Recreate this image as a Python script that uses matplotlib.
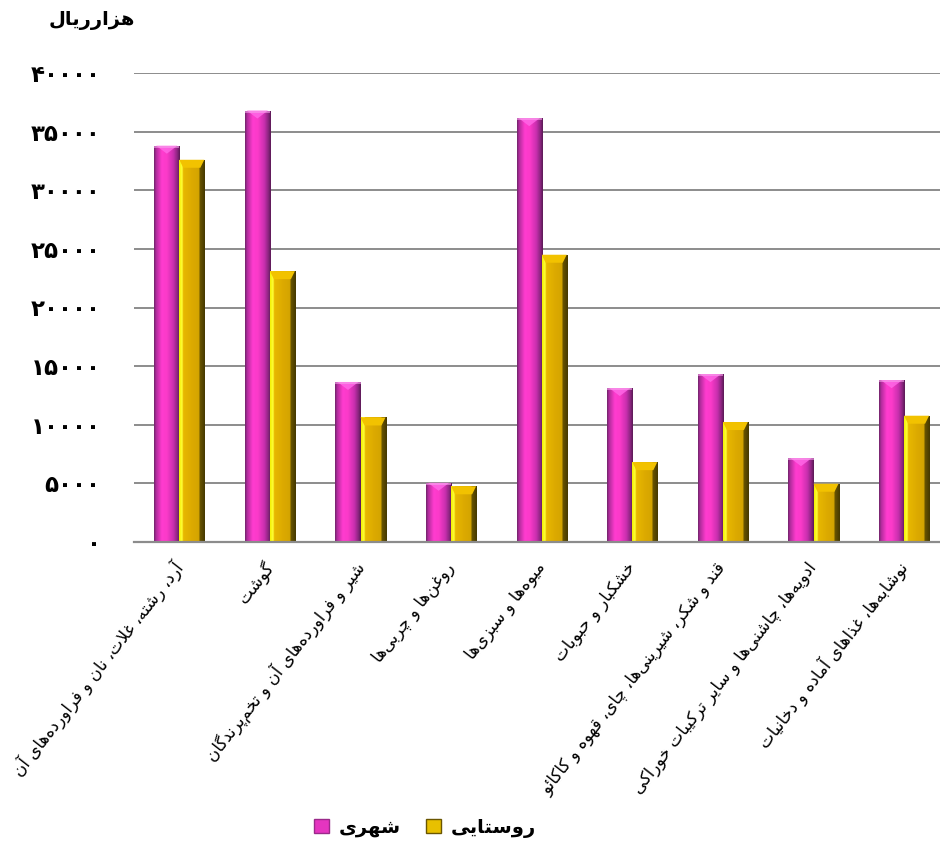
import numpy as np
import matplotlib
matplotlib.use("Agg")
import matplotlib.pyplot as plt
from matplotlib.colors import LinearSegmentedColormap
from matplotlib.patches import Patch, Polygon

# ---------------- data ----------------
categories = [
    "آرد، رشته، غلات، نان و فراورده‌های آن",
    "گوشت",
    "شیر و فراورده‌های آن و تخم‌پرندگان",
    "روغن‌ها و چربی‌ها",
    "میوه‌ها و سبزی‌ها",
    "خشکبار و حبوبات",
    "قند و شکر، شیرینی‌ها، چای، قهوه و کاکائو",
    "ادویه‌ها، چاشنی‌ها و سایر ترکیبات خوراکی",
    "نوشابه‌ها، غذاهای آماده و دخانیات",
]
urban = [33800, 36800, 13650, 5050, 36150, 13130, 14320, 7150, 13800]
rural = [32600, 23100, 10620, 4750, 24500, 6810, 10230, 4970, 10770]
series_names = ["شهری", "روستایی"]
y_ticks = [0, 5000, 10000, 15000, 20000, 25000, 30000, 35000, 40000]
y_unit = "هزارریال"

# ---------------- minimal Persian shaping ----------------
FORMS = {
    'ا': ('\uFE8D', '\uFE8E', None, None),
    'آ': ('\uFE81', '\uFE82', None, None),
    'ب': ('\uFE8F', '\uFE90', '\uFE91', '\uFE92'),
    'پ': ('\uFB56', '\uFB57', '\uFB58', '\uFB59'),
    'ت': ('\uFE95', '\uFE96', '\uFE97', '\uFE98'),
    'ج': ('\uFE9D', '\uFE9E', '\uFE9F', '\uFEA0'),
    'چ': ('\uFB7A', '\uFB7B', '\uFB7C', '\uFB7D'),
    'ح': ('\uFEA1', '\uFEA2', '\uFEA3', '\uFEA4'),
    'خ': ('\uFEA5', '\uFEA6', '\uFEA7', '\uFEA8'),
    'د': ('\uFEA9', '\uFEAA', None, None),
    'ذ': ('\uFEAB', '\uFEAC', None, None),
    'ر': ('\uFEAD', '\uFEAE', None, None),
    'ز': ('\uFEAF', '\uFEB0', None, None),
    'س': ('\uFEB1', '\uFEB2', '\uFEB3', '\uFEB4'),
    'ش': ('\uFEB5', '\uFEB6', '\uFEB7', '\uFEB8'),
    'ع': ('\uFEC9', '\uFECA', '\uFECB', '\uFECC'),
    'غ': ('\uFECD', '\uFECE', '\uFECF', '\uFED0'),
    'ف': ('\uFED1', '\uFED2', '\uFED3', '\uFED4'),
    'ق': ('\uFED5', '\uFED6', '\uFED7', '\uFED8'),
    'ک': ('\uFB8E', '\uFB8F', '\uFB90', '\uFB91'),
    'گ': ('\uFB92', '\uFB93', '\uFB94', '\uFB95'),
    'ل': ('\uFEDD', '\uFEDE', '\uFEDF', '\uFEE0'),
    'م': ('\uFEE1', '\uFEE2', '\uFEE3', '\uFEE4'),
    'ن': ('\uFEE5', '\uFEE6', '\uFEE7', '\uFEE8'),
    'و': ('\uFEED', '\uFEEE', None, None),
    'ه': ('\uFEE9', '\uFEEA', '\uFEEB', '\uFEEC'),
    'ی': ('\uFBFC', '\uFBFD', '\uFBFE', '\uFBFF'),
    'ئ': ('\uFE89', '\uFE8A', '\uFE8B', '\uFE8C'),
}
LAMALEF = {'ا': ('\uFEFB', '\uFEFC'), 'آ': ('\uFEF5', '\uFEF6')}


def fa(text):
    ch = list(text)
    n = len(ch)
    out = []
    i = 0

    def dual(c):
        return c in FORMS and FORMS[c][2] is not None

    while i < n:
        c = ch[i]
        if c not in FORMS:
            if c != '\u200c':
                out.append(c)
            i += 1
            continue
        prev_join = i > 0 and dual(ch[i - 1])
        if c == 'ل' and i + 1 < n and ch[i + 1] in LAMALEF:
            out.append(LAMALEF[ch[i + 1]][1 if prev_join else 0])
            i += 2
            continue
        next_join = dual(c) and i + 1 < n and ch[i + 1] in FORMS
        iso, fin, ini, med = FORMS[c]
        if prev_join and next_join:
            out.append(med)
        elif prev_join:
            out.append(fin)
        elif next_join:
            out.append(ini)
        else:
            out.append(iso)
        i += 1
    return ''.join(reversed(out))


def fa_digits(v):
    return str(v).translate(str.maketrans('0123456789', '۰۱۲۳۴۵۶۷۸۹'))


plt.rcParams['font.family'] = ['DejaVu Sans']

W, H = 940, 848
fig = plt.figure(figsize=(W / 100, H / 100), dpi=100)
ax_left, ax_bot, ax_top = 134, 542, 73
ax = fig.add_axes([ax_left / W, (H - ax_bot) / H, (W - ax_left) / W, (ax_bot - ax_top) / H])

n = len(categories)
x = np.arange(n)
bw = 0.276
px_x = 1 / 90.6          # data units per pixel (x)
px_y = 40000 / 469.0      # data units per pixel (y)

ax.set_xlim(-0.5, -0.5 + (W - ax_left) * px_x)
ax.set_ylim(0, 40000)

cm_mag = LinearSegmentedColormap.from_list('mag', [
    (0.0, '#6e2468'), (0.08, '#b02c9c'), (0.3, '#ff3ccf'), (0.5, '#fb3ac9'),
    (0.75, '#c82fae'), (0.9, '#8c2580'), (1.0, '#5a1a55')])
cm_yel = LinearSegmentedColormap.from_list('yel', [
    (0.0, '#f4f000'), (0.12, '#ffff3a'), (0.16, '#e8b800'), (0.5, '#dcaa00'),
    (0.78, '#d4a400'), (0.8, '#6a5600'), (1.0, '#453800')])
grad = np.linspace(0, 1, 128).reshape(1, -1)

bars_u = ax.bar(x - bw / 2, urban, bw, color='none', linewidth=0, zorder=3)
bars_r = ax.bar(x + bw / 2, rural, bw, color='none', linewidth=0, zorder=3)

for bars, cmap, kind in ((bars_u, cm_mag, 'm'), (bars_r, cm_yel, 'y')):
    for b in bars:
        x0, w, h = b.get_x(), b.get_width(), b.get_height()
        im = ax.imshow(grad, cmap=cmap, aspect='auto', extent=(x0, x0 + w, 0, h),
                       interpolation='bilinear', zorder=3)
        im.set_clip_path(b)
        bev_y = 8 * px_y
        bev_x = 4 * px_x
        if kind == 'm':
            top = Polygon([(x0 + 2 * px_x, h), (x0 + w - 2 * px_x, h), (x0 + w * 0.5, h - bev_y)],
                          closed=True, facecolor='#ff66e6', edgecolor='none', alpha=0.85, zorder=4)
            ax.add_patch(top)
            ax.add_patch(Polygon([(x0, h), (x0 + w, h), (x0 + w, h - 2 * px_y), (x0, h - 2 * px_y)],
                                 closed=True, facecolor='#f7a0ec', edgecolor='none', alpha=0.6, zorder=4))
        else:
            top = Polygon([(x0, h), (x0 + w, h), (x0 + w - bev_x, h - bev_y), (x0 + bev_x, h - bev_y)],
                          closed=True, facecolor='#f2c200', edgecolor='none', zorder=4)
            ax.add_patch(top)
        ax.set_xlim(-0.5, -0.5 + (W - ax_left) * px_x)
        ax.set_ylim(0, 40000)

# axes styling
for s in ['top', 'right', 'left']:
    ax.spines[s].set_visible(False)
ax.spines['bottom'].set_color('#8c8c8c')
ax.spines['bottom'].set_linewidth(1.6)
ax.spines['bottom'].set_zorder(5)
ax.set_yticks(y_ticks)
ax.set_yticklabels([fa_digits(v) for v in y_ticks], fontsize=16.5, fontweight='bold')
ax.tick_params(axis='y', length=0, pad=24)
ax.grid(axis='y', color='#8c8c8c', linewidth=1.4, zorder=0)
ax.set_axisbelow(True)

ax.set_xticks(x)
ax.set_xticklabels([fa(c) for c in categories], rotation=52, ha='right', va='center',
                   rotation_mode='anchor', fontsize=12)
ax.tick_params(axis='x', length=0, pad=16)

fig.text(135 / W, 1 - 20 / H, fa(y_unit), ha='right', va='center', fontsize=14, fontweight='bold')

handles = [Patch(facecolor='#e535c0', edgecolor='#9a2a8a'),
           Patch(facecolor='#e8c000', edgecolor='#6a5600')]
fig.legend(handles, [fa(s) for s in series_names], loc='center', ncol=2,
           bbox_to_anchor=(425 / W, 1 - 828 / H), frameon=False,
           prop={'size': 14, 'weight': 'bold'}, handlelength=0.75, handleheight=0.75,
           handletextpad=0.5, columnspacing=1.3)

fig.savefig('out.png', dpi=100)
